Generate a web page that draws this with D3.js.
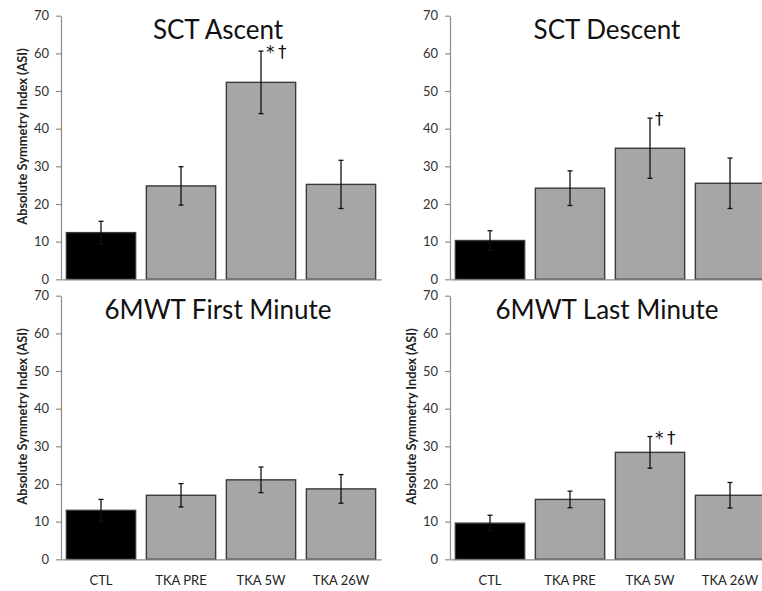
<!DOCTYPE html>
<html>
<head>
<meta charset="utf-8">
<script src="https://d3js.org/d3.v7.min.js"></script>
<style>
  body { margin: 0; background: #fff; }
  svg { display: block; font-family: Lato, "Open Sans", sans-serif; }
  .axis path, .axis line { stroke: #8c8c8c; stroke-width: 1.2px; }
  .axis text { fill: #333; font-size: 13px; font-family: Lato, sans-serif; }
  .bar { stroke: #3a3a3a; stroke-width: 1.4px; }
  .err { stroke: #111; stroke-width: 1.3px; }
</style>
</head>
<body>
<svg width="762" height="591"></svg>
<script>
// groups on the x axis
var categories = ["CTL", "TKA PRE", "TKA 5W", "TKA 26W"];
var yTicks = [0, 10, 20, 30, 40, 50, 60, 70];
var barColors = ["#000000", "#a6a6a6", "#a6a6a6", "#a6a6a6"];
var yLabel = "Absolute Symmetry Index (ASI)";

// panel values (mean ASI and error)
var ascentMean  = [12.4, 24.8, 52.3, 25.2];
var ascentErr   = [3.0, 5.1, 8.3, 6.4];
var ascentMarks = ["", "", "*†", ""];

var descentMean  = [10.3, 24.2, 34.8, 25.5];
var descentErr   = [2.6, 4.6, 8.0, 6.7];
var descentMarks = ["", "", "†", ""];

var firstMean  = [13.0, 17.0, 21.1, 18.7];
var firstErr   = [2.9, 3.1, 3.4, 3.8];
var firstMarks = ["", "", "", ""];

var lastMean  = [9.6, 15.9, 28.4, 17.0];
var lastErr   = [2.1, 2.2, 4.2, 3.4];
var lastMarks = ["", "", "*†", ""];

var panels = [
  {title: "SCT Ascent", mean: ascentMean, err: ascentErr, marks: ascentMarks, left: 61, top: 15.7, ylab: true, xlab: false},
  {title: "SCT Descent", mean: descentMean, err: descentErr, marks: descentMarks, left: 450, top: 15.7, ylab: false, xlab: false},
  {title: "6MWT First Minute", mean: firstMean, err: firstErr, marks: firstMarks, left: 61, top: 295.7, ylab: true, xlab: true},
  {title: "6MWT Last Minute", mean: lastMean, err: lastErr, marks: lastMarks, left: 450, top: 295.7, ylab: true, xlab: true}
];

var width = 320, height = 263.6;
var svg = d3.select("svg");

var x = d3.scaleBand().domain(categories).range([0, width])
  .paddingInner(0.134).paddingOuter(0.067);
var y = d3.scaleLinear().domain([0, 70]).range([height, 0]);

panels.forEach(function(p) {
  var g = svg.append("g")
    .attr("transform", "translate(" + p.left + "," + p.top + ")");

  var rows = categories.map(function(c, i) {
    return {cat: c, mean: p.mean[i], err: p.err[i], mark: p.marks[i], color: barColors[i]};
  });

  g.selectAll(".bar")
    .data(rows)
    .enter().append("rect")
    .attr("class", "bar")
    .attr("x", function(d) { return x(d.cat); })
    .attr("y", function(d) { return y(d.mean); })
    .attr("width", x.bandwidth())
    .attr("height", function(d) { return height - y(d.mean); })
    .style("fill", function(d) { return d.color; });

  // error bars
  var eb = g.selectAll(".errbar")
    .data(rows)
    .enter().append("g")
    .attr("transform", function(d) { return "translate(" + (x(d.cat) + x.bandwidth() / 2) + ",0)"; });
  eb.append("line").attr("class", "err")
    .attr("y1", function(d) { return y(d.mean - d.err); })
    .attr("y2", function(d) { return y(d.mean + d.err); });
  eb.append("line").attr("class", "err")
    .attr("x1", -2.5).attr("x2", 2.5)
    .attr("y1", function(d) { return y(d.mean + d.err); })
    .attr("y2", function(d) { return y(d.mean + d.err); });
  eb.append("line").attr("class", "err")
    .attr("x1", -2.5).attr("x2", 2.5)
    .attr("y1", function(d) { return y(d.mean - d.err); })
    .attr("y2", function(d) { return y(d.mean - d.err); });
  eb.append("text")
    .attr("x", 5)
    .attr("y", function(d) { return y(d.mean + d.err) + 7; })
    .style("font-family", "'DejaVu Sans', sans-serif")
    .style("font-size", "17px")
    .style("letter-spacing", "3.5px")
    .style("fill", "#111")
    .text(function(d) { return d.mark; });

  // axes
  g.append("g")
    .attr("class", "axis")
    .call(d3.axisLeft(y).tickValues(yTicks).tickSize(5).tickSizeOuter(0).tickPadding(7));

  g.append("g")
    .attr("class", "axis")
    .attr("transform", "translate(0," + height + ")")
    .call(d3.axisBottom(x).tickSize(0).tickSizeOuter(0).tickFormat(""));

  if (p.xlab) {
    g.selectAll(".xlab")
      .data(categories)
      .enter().append("text")
      .attr("x", function(d) { return x(d) + x.bandwidth() / 2; })
      .attr("y", height + 26)
      .attr("text-anchor", "middle")
      .style("font-size", "13px")
      .style("fill", "#222")
      .text(function(d) { return d; });
  }

  if (p.ylab) {
    g.append("text")
      .attr("transform", "translate(-38," + (height / 2 - 11) + ") rotate(-90)")
      .attr("dy", "0.35em")
      .attr("text-anchor", "middle")
      .style("font-size", "12.8px")
      .style("font-weight", "bold")
      .style("fill", "#222")
      .text(yLabel);
  }

  g.append("text")
    .attr("x", width / 2 - 3)
    .attr("y", 23.5)
    .attr("text-anchor", "middle")
    .style("font-size", "26px")
    .style("fill", "#111")
    .text(p.title);
});
</script>
</body>
</html>
